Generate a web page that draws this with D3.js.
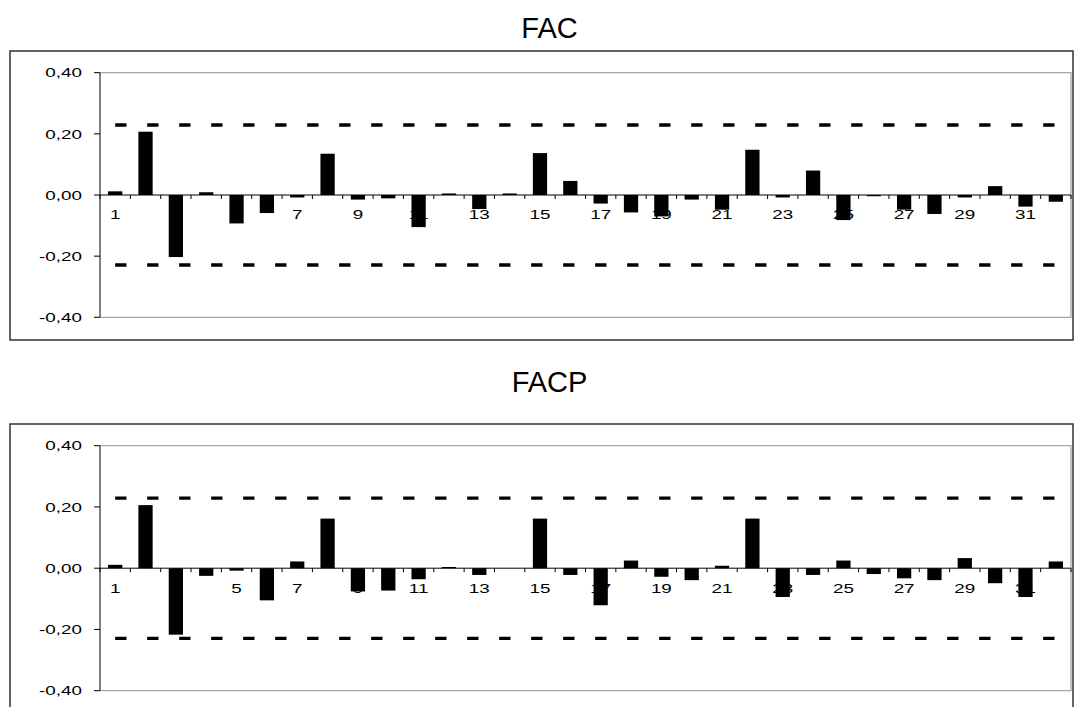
<!DOCTYPE html>
<html>
<head>
<meta charset="utf-8">
<script src="https://cdn.jsdelivr.net/npm/d3@7"></script>
<style>
  body { margin: 0; background: #fff; }
  svg { display: block; }
  text { font-family: "Liberation Sans", Arial, sans-serif; fill: #000; }
</style>
</head>
<body>
<script>
// Lags of the correlogram
const lags = d3.range(1, 33);

// Autocorrelation function (FAC)
const facValues = [
  0.012, 0.207, -0.203, 0.009, -0.093, -0.059, -0.008, 0.135,
  -0.015, -0.011, -0.105, 0.005, -0.046, 0.005, 0.137, 0.046,
  -0.028, -0.057, -0.070, -0.015, -0.048, 0.148, -0.008, 0.080,
  -0.082, -0.004, -0.048, -0.062, -0.008, 0.029, -0.038, -0.022
];

// Partial autocorrelation function (FACP)
const facpValues = [
  0.011, 0.206, -0.217, -0.025, -0.008, -0.105, 0.022, 0.162,
  -0.076, -0.073, -0.036, 0.004, -0.022, 0.000, 0.162, -0.022,
  -0.121, 0.025, -0.028, -0.039, 0.008, 0.162, -0.094, -0.022,
  0.025, -0.019, -0.033, -0.039, 0.033, -0.049, -0.094, 0.022
];

// Confidence band (upper / lower)
const bandLimits = [0.229, -0.229];

// Value axis ticks
const yTickValues = [0.4, 0.2, 0, -0.2, -0.4];

// Lags that carry a label on the category axis
const labelledLags = lags.filter(d => d % 2 === 1);

const titles = ["FAC", "FACP"];

const W = 1074, H = 707;
const svg = d3.select("body").append("svg").attr("width", W).attr("height", H);

const fmt = d3.formatLocale({
  decimal: ",", thousands: ".", grouping: [3], currency: ["", ""], minus: "-"
}).format(".2f");

const panels = [
  { title: titles[0], values: facValues,
    frame: { x: 10, y: 51, w: 1063, h: 289 },
    plot: { left: 100, right: 1071, top: 72.7, bottom: 317.3 },
    titleY: 38.3 },
  { title: titles[1], values: facpValues,
    frame: { x: 10, y: 424, w: 1063, h: 300 },
    plot: { left: 100, right: 1071, top: 445.7, bottom: 690.7 },
    titleY: 391.7 }
];

const LABEL_STRETCH = 1.45;
const LABEL_SIZE = "13px";

panels.forEach(p => {
  const g = svg.append("g");

  // outer chart frame
  g.append("rect")
    .attr("x", p.frame.x).attr("y", p.frame.y)
    .attr("width", p.frame.w).attr("height", p.frame.h)
    .attr("fill", "none").attr("stroke", "#333").attr("stroke-width", 1.5);

  // title
  g.append("text")
    .attr("x", 549.5).attr("y", p.titleY)
    .attr("text-anchor", "middle")
    .style("font-size", "29px")
    .text(p.title);

  const x = d3.scaleBand()
    .domain(lags)
    .range([p.plot.left, p.plot.right])
    .paddingInner(0.53)
    .paddingOuter(0.265);

  const xEdge = d3.scaleLinear()
    .domain([0.5, lags.length + 0.5])
    .range([p.plot.left, p.plot.right]);

  const y = d3.scaleLinear()
    .domain([-0.4, 0.4])
    .range([p.plot.bottom, p.plot.top]);

  // plot area border (grey)
  g.append("path")
    .attr("d", `M${p.plot.left},${y(0.4)}H${p.plot.right}V${y(-0.4)}H${p.plot.left}`)
    .attr("fill", "none").attr("stroke", "#a6a6a6").attr("stroke-width", 1.3);

  // value axis
  g.append("line")
    .attr("x1", p.plot.left).attr("x2", p.plot.left)
    .attr("y1", y(0.4)).attr("y2", y(-0.4))
    .attr("stroke", "#000").attr("stroke-width", 1);

  yTickValues.forEach(v => {
    g.append("line")
      .attr("x1", p.plot.left - 6).attr("x2", p.plot.left)
      .attr("y1", y(v)).attr("y2", y(v))
      .attr("stroke", "#000").attr("stroke-width", 1);
    g.append("text")
      .attr("transform", `translate(82,${y(v)}) scale(${LABEL_STRETCH},1)`)
      .attr("text-anchor", "end")
      .attr("dy", "0.36em")
      .style("font-size", LABEL_SIZE)
      .text(fmt(v));
  });

  // category labels (drawn beneath the bars)
  labelledLags.forEach(l => {
    g.append("text")
      .attr("transform", `translate(${x(l) + x.bandwidth() / 2},${y(0) + 24.4}) scale(${LABEL_STRETCH},1)`)
      .attr("text-anchor", "middle")
      .style("font-size", LABEL_SIZE)
      .text(l);
  });

  // category tick marks at lag boundaries
  d3.range(0, lags.length + 1).forEach(i => {
    const xx = xEdge(i + 0.5);
    g.append("line")
      .attr("x1", xx).attr("x2", xx)
      .attr("y1", y(0)).attr("y2", y(0) + 4)
      .attr("stroke", "#000").attr("stroke-width", 1);
  });

  // bars
  g.selectAll("rect.bar")
    .data(lags.map((l, i) => ({ lag: l, v: p.values[i] })))
    .join("rect")
    .attr("class", "bar")
    .attr("x", d => x(d.lag))
    .attr("width", x.bandwidth())
    .attr("y", d => y(Math.max(0, d.v)))
    .attr("height", d => Math.abs(y(d.v) - y(0)))
    .attr("fill", "#000");

  // zero line
  g.append("line")
    .attr("x1", p.plot.left).attr("x2", p.plot.right)
    .attr("y1", y(0)).attr("y2", y(0))
    .attr("stroke", "#000").attr("stroke-width", 1);

  // confidence limits
  const line = d3.line()
    .x(d => x(d.lag) + x.bandwidth() / 2)
    .y(d => y(d.v));
  bandLimits.forEach(b => {
    g.append("path")
      .attr("d", line(lags.map(l => ({ lag: l, v: b }))))
      .attr("fill", "none")
      .attr("stroke", "#000")
      .attr("stroke-width", 3.3)
      .attr("stroke-dasharray", "11.3,20.7");
  });
});
</script>
</body>
</html>
